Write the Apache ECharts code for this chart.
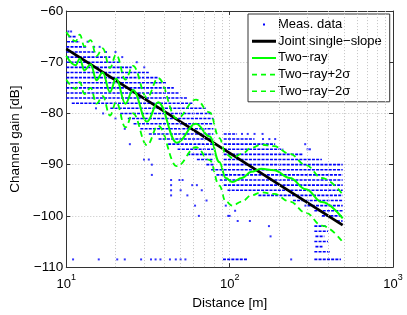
<!DOCTYPE html>
<html><head><meta charset="utf-8">
<script src="https://cdn.jsdelivr.net/npm/echarts@6/dist/echarts.min.js"></script>
<style>html,body{margin:0;padding:0;background:#fff}#c{width:407px;height:315px}</style>
</head><body><div id="c"></div>
<script>
// ---------- data ----------
const yTicks = [-110, -100, -90, -80, -70, -60];
const xTicks = [10, 100, 1000];
const minorX = [20, 30, 40, 50, 60, 70, 80, 90, 200, 300, 400, 500, 600, 700, 800, 900];

const slopeD = [10, 492];
const slopeDB = [-67.4, -101.8];

const rayD = [10.0, 11.4, 12.1, 12.9, 14.1, 15.3, 16.7, 18.5, 20.2, 23.0, 25.6, 31.2, 36.5, 47.5, 62.2, 75.5, 86.5, 94.6, 103.8, 118.8, 136, 155.6, 186.8, 233.7, 293, 367, 492];
const rayDB = [-68.8, -70.6, -69.3, -71.6, -70.4, -73.5, -72.0, -75.8, -73.2, -78.1, -75.4, -81.6, -77.8, -85.7, -82.0, -84.5, -89.5, -92.6, -93.4, -92.6, -91.4, -90.8, -91.1, -92.6, -94.8, -97.3, -100.5];
const rayUpDB = [-64.1, -65.9, -64.6, -66.9, -65.7, -68.8, -67.3, -71.1, -68.5, -73.4, -70.7, -76.9, -73.1, -81.0, -77.3, -79.8, -84.8, -87.9, -88.7, -87.9, -86.7, -86.1, -86.4, -87.9, -90.1, -92.6, -95.8];
const rayLoDB = [-73.4, -75.2, -73.9, -76.2, -75.0, -78.1, -76.6, -80.4, -77.8, -82.7, -80.0, -86.2, -82.4, -90.3, -86.6, -89.1, -94.1, -97.2, -98.0, -97.2, -96.0, -95.4, -95.7, -97.2, -99.4, -101.9, -105.1];

// measured data: dense rows of samples [from distance, to distance, gain]
const measRows = [
  [10.3, 11.4, -65], [10.1, 12.1, -66], [10, 13.3, -67], [10, 15.2, -68], [10, 18.6, -69],
  [10, 21.4, -70], [10, 25.1, -71], [10, 32, -72], [10, 36.7, -73], [10, 40.9, -74],
  [10, 45.5, -75], [10, 49.4, -76], [10, 55.1, -77], [10.8, 59.8, -78], [18.6, 72.2, -79],
  [21.4, 77.4, -80], [23.8, 79.5, -81], [25.8, 79.5, -82], [28.4, 79.5, -83],
  [32, 79.5, -84], [92, 111, -84],
  [36.7, 79.5, -85], [92, 142, -85],
  [42, 79.5, -86], [92, 190, -86],
  [48, 79.5, -87], [92, 213, -87],
  [55, 79.5, -88], [92, 280, -88],
  [63, 79.5, -89], [92, 367, -89],
  [72, 79.5, -90], [92, 492, -90],
  [77, 492, -91], [83, 492, -92], [87, 492, -93], [92, 492, -94], [97, 492, -95],
  [150, 492, -96], [244, 492, -97], [300, 492, -98], [330, 492, -99], [367, 492, -100], [453, 492, -101],
  [330, 390, -102], [330, 400, -103], [335, 380, -104], [330, 400, -105], [335, 370, -106], [330, 410, -107],
  [91, 129, -108.5], [330, 480, -108.5]
];
// measured data: isolated samples [distance, gain]
const measPts = [
  [11.0, -108.5], [15.8, -108.5], [20.5, -108.5], [22.8, -108.5], [28.7, -108.5], [33.0, -108.5],
  [35.2, -108.5], [37.7, -108.5], [43.1, -108.5], [46.8, -108.5], [50.1, -108.5], [53.6, -108.5], [238, -108.5],
  [15.2, -79], [16.8, -80], [20, -81], [22.8, -83], [24.5, -86], [29.9, -89], [32, -89], [33.4, -90], [33.4, -92],
  [43.8, -93], [43.8, -94], [43.8, -95], [43.8, -96], [49.3, -93], [50.1, -95], [61.4, -98], [63, -94],
  [51.5, -93], [59, -94], [67.5, -95], [55.1, -96], [72.2, -97], [64.8, -100], [94.7, -98], [98, -100],
  [100, -100], [108, -99], [112, -101], [133, -101], [174, -102], [178, -104], [291, -98],
  [10.3, -64], [10.7, -64], [13.5, -66], [14.8, -67], [16, -67], [17.5, -68], [20, -68], [22, -69], [27, -70], [30, -71],
  [119, -84], [129, -84], [142, -84], [159, -84], [160, -85], [175, -85], [190, -85], [290, -86], [300, -87], [310, -87]
];

// ---------- chart ----------
const FONT = 'Liberation Sans, Arial, Helvetica, sans-serif';
const zip = (xs, ys) => xs.map((x, i) => [x, ys[i]]);
const minus = v => String(v).replace('-', '\u2212');
const svgIcon = body => 'image://data:image/svg+xml;charset=utf-8,' + encodeURIComponent(
  '<svg xmlns="http://www.w3.org/2000/svg" width="24" height="13" viewBox="0 0 24 13">' + body + '</svg>');
const iconDot = svgIcon('<rect x="11" y="5.5" width="2" height="2" fill="#0000ff"/>');
const iconBlack = svgIcon('<line x1="0" y1="6.5" x2="24" y2="6.5" stroke="#000" stroke-width="3"/>');
const iconGreen = svgIcon('<line x1="0" y1="6.5" x2="24" y2="6.5" stroke="#00ff00" stroke-width="2"/>');
const iconDash = svgIcon('<line x1="0" y1="6.5" x2="24" y2="6.5" stroke="#00ff00" stroke-width="1.6" stroke-dasharray="5,4"/>');

const chart = echarts.init(document.getElementById('c'), null, {renderer: 'canvas'});
const axisLineStyle = {color: '#333', width: 1};
const gridDot = {color: '#c4c4c4', width: 1, type: [1, 2]};

chart.setOption({
  animation: false,
  backgroundColor: '#fff',
  grid: {left: 54, top: 11, right: 14, bottom: 37.5},
  legend: {
    orient: 'vertical', left: 248, top: 14, padding: [4, 8, 4, 4],
    itemGap: 3.7, itemWidth: 24, itemHeight: 13,
    backgroundColor: '#fff', borderColor: '#333', borderWidth: 1, borderRadius: 0,
    selectedMode: false,
    textStyle: {fontSize: 13, color: '#000', fontFamily: FONT, padding: [0, 0, 0, -3]},
    data: [
      {name: 'Meas. data', icon: iconDot},
      {name: 'Joint single\u2212slope', icon: iconBlack},
      {name: 'Two\u2212ray', icon: iconGreen},
      {name: 'Two\u2212ray+2\u03c3', icon: iconDash},
      {name: 'Two\u2212ray\u22122\u03c3', icon: iconDash}
    ]
  },
  xAxis: [{
    type: 'log', logBase: 10, min: xTicks[0], max: xTicks[xTicks.length - 1],
    position: 'bottom',
    axisLine: {lineStyle: axisLineStyle},
    axisTick: {inside: true, length: 4, lineStyle: axisLineStyle},
    splitLine: {show: true, lineStyle: gridDot},
    axisLabel: {
      margin: 6, color: '#000',
      formatter: v => '{b|10}{s|' + Math.round(Math.log10(v)) + '}',
      rich: {
        b: {fontSize: 13, fontFamily: FONT, color: '#000', lineHeight: 18, verticalAlign: 'bottom'},
        s: {fontSize: 9, fontFamily: FONT, color: '#000', lineHeight: 8, verticalAlign: 'top'}
      }
    },
    name: 'Distance [m]', nameLocation: 'middle', nameGap: 24,
    nameTextStyle: {fontSize: 13.5, color: '#000', fontFamily: FONT}
  }, {
    type: 'log', logBase: 10, min: xTicks[0], max: xTicks[xTicks.length - 1],
    position: 'top',
    axisLine: {lineStyle: axisLineStyle},
    axisTick: {inside: true, length: 4, lineStyle: axisLineStyle},
    axisLabel: {show: false}, splitLine: {show: false}
  }],
  yAxis: [{
    type: 'value', min: yTicks[0], max: yTicks[yTicks.length - 1], interval: 10,
    position: 'left',
    axisLine: {show: true, lineStyle: axisLineStyle},
    axisTick: {show: true, inside: true, length: 4, lineStyle: axisLineStyle},
    splitLine: {show: true, lineStyle: gridDot},
    axisLabel: {margin: 3, fontSize: 13.5, color: '#000', fontFamily: FONT, formatter: minus},
    name: 'Channel gain [dB]', nameLocation: 'middle', nameGap: 38, nameRotate: 90,
    nameTextStyle: {fontSize: 13.5, color: '#000', fontFamily: FONT}
  }, {
    type: 'value', min: yTicks[0], max: yTicks[yTicks.length - 1], interval: 10,
    position: 'right',
    axisLine: {show: true, lineStyle: axisLineStyle},
    axisTick: {show: true, inside: true, length: 4, lineStyle: axisLineStyle},
    axisLabel: {show: false}, splitLine: {show: false}
  }],
  series: [
    {
      type: 'line', name: 'grid-minor', data: [], silent: true, z: 1,
      markLine: {
        silent: true, symbol: 'none', label: {show: false}, animation: false,
        lineStyle: gridDot, emphasis: {disabled: true},
        data: minorX.map(v => ({xAxis: v}))
      }
    },
    {
      type: 'custom', name: 'Meas. data', z: 2, silent: true,
      encode: {x: [0, 1], y: 2},
      data: measRows,
      renderItem: (params, api) => {
        const p1 = api.coord([api.value(0), api.value(2)]);
        const p2 = api.coord([api.value(1), api.value(2)]);
        return {
          type: 'line',
          shape: {x1: p1[0], y1: p1[1], x2: p2[0], y2: p2[1]},
          style: {stroke: '#0000ff', lineWidth: 1.6, lineDash: [3, 1.2]}
        };
      }
    },
    {
      type: 'scatter', name: 'Meas. data', z: 2, silent: true,
      symbol: 'rect', symbolSize: 2, itemStyle: {color: '#0000ff'},
      data: measPts
    },
    {
      type: 'line', name: 'Joint single\u2212slope', z: 3, silent: true,
      data: zip(slopeD, slopeDB), symbol: 'none', showSymbol: false,
      lineStyle: {color: '#000', width: 2.8}, itemStyle: {color: '#000'}
    },
    {
      type: 'line', name: 'Two\u2212ray', z: 4, silent: true, smooth: 0.4, smoothMonotone: 'x',
      data: zip(rayD, rayDB), symbol: 'none', showSymbol: false,
      lineStyle: {color: '#00ff00', width: 2}, itemStyle: {color: '#00ff00'}
    },
    {
      type: 'line', name: 'Two\u2212ray+2\u03c3', z: 4, silent: true, smooth: 0.4, smoothMonotone: 'x',
      data: zip(rayD, rayUpDB), symbol: 'none', showSymbol: false,
      lineStyle: {color: '#00ff00', width: 1.8, type: [6, 4]}, itemStyle: {color: '#00ff00'}
    },
    {
      type: 'line', name: 'Two\u2212ray\u22122\u03c3', z: 4, silent: true, smooth: 0.4, smoothMonotone: 'x',
      data: zip(rayD, rayLoDB), symbol: 'none', showSymbol: false,
      lineStyle: {color: '#00ff00', width: 1.8, type: [6, 4]}, itemStyle: {color: '#00ff00'}
    }
  ]
});
</script>
</body></html>
